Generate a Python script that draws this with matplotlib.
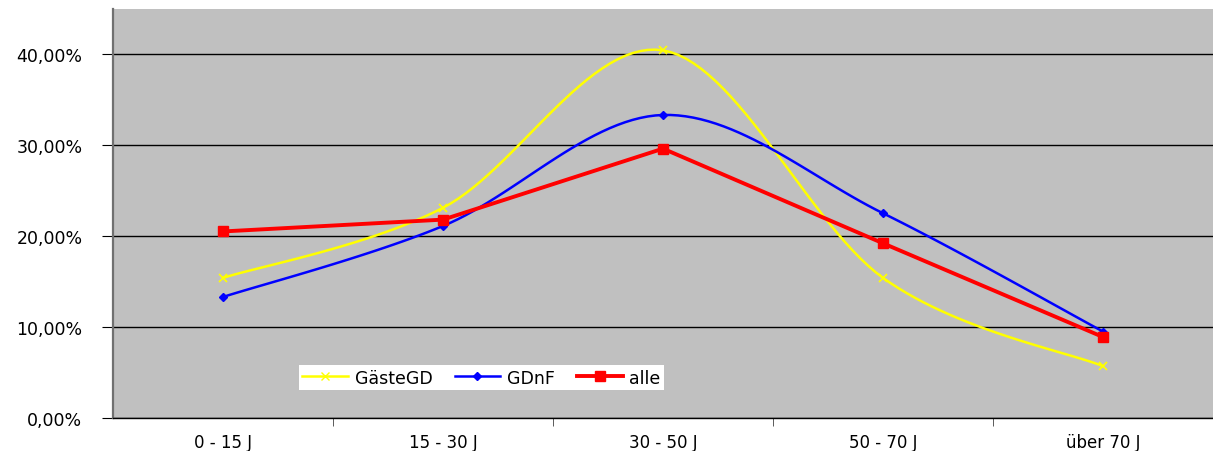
import numpy as np
from matplotlib import pyplot as plt
from matplotlib.ticker import FuncFormatter, FixedLocator

kategorien = ["0 - 15 J", "15 - 30 J", "30 - 50 J", "50 - 70 J", "über 70 J"]
gaeste_gd = [15.4, 23.1, 40.4, 15.4, 5.7]
gdnf = [13.3, 21.1, 33.3, 22.5, 9.5]
alle = [20.5, 21.8, 29.6, 19.2, 8.9]


def glatt(xs, ys, n=30):
    # Bezier-Glaettung wie in Excel (Catmull-Rom)
    xs = np.asarray(xs, float)
    ys = np.asarray(ys, float) / 100.0
    px = np.concatenate(([xs[0]], xs, [xs[-1]]))
    py = np.concatenate(([ys[0]], ys, [ys[-1]]))
    kx = []
    ky = []
    t = np.linspace(0, 1, n)
    for i in range(1, len(px) - 2):
        p0 = np.array([px[i], py[i]])
        p3 = np.array([px[i + 1], py[i + 1]])
        p1 = p0 + (p3 - np.array([px[i - 1], py[i - 1]])) / 6.0
        p2 = p3 - (np.array([px[i + 2], py[i + 2]]) - p0) / 6.0
        for tt in t:
            b = ((1 - tt) ** 3) * p0 + 3 * ((1 - tt) ** 2) * tt * p1 + 3 * (1 - tt) * tt ** 2 * p2 + tt ** 3 * p3
            kx.append(b[0])
            ky.append(b[1])
    return kx, ky


plt.rcParams['font.family'] = ['DejaVu Sans']

fig = plt.figure(figsize=(12.13, 4.52), dpi=100)
ax = fig.add_axes([113 / 1213, 33 / 452, 1 - 113 / 1213, (419 - 9.5) / 452])
ax.set_facecolor('#c0c0c0')

x = np.arange(len(kategorien))

kx, ky = glatt(x, gaeste_gd)
ax.plot(kx, ky, '-', color='#ffff00', lw=1.8, zorder=3)
ax.plot(x, np.array(gaeste_gd) / 100, 'x', color='#ffff00', ms=6, mew=1.2, zorder=3)

kx, ky = glatt(x, gdnf)
ax.plot(kx, ky, '-', color='#0000ff', lw=1.8, zorder=4)
ax.plot(x, np.array(gdnf) / 100, 'D', color='#0000ff', ms=4, zorder=4)

ax.plot(x, np.array(alle) / 100, '-s', color='#ff0000', lw=2.8, ms=7, zorder=5)

# Legende
ax.plot([], [], '-x', color='#ffff00', lw=1.8, ms=6, label='GästeGD')
ax.plot([], [], '-D', color='#0000ff', lw=1.8, ms=4, label='GDnF')
ax.plot([], [], '-s', color='#ff0000', lw=2.8, ms=7, label='alle')
h, l = ax.get_legend_handles_labels()
leg = ax.legend(h[-3:], l[-3:], ncol=3, loc='lower left',
                bbox_to_anchor=((299 - 113) / 1100, (419 - 391) / 409.5),
                frameon=True, fancybox=False, framealpha=1, edgecolor='white',
                fontsize=12.5, borderpad=0.2, handlelength=2.6, handletextpad=0.4,
                columnspacing=1.3, borderaxespad=0)
leg.get_frame().set_linewidth(0)

ax.set_xlim(-0.5, 4.5)
ax.set_ylim(0, 0.45)
ax.set_yticks([0, 0.1, 0.2, 0.3, 0.4])
ax.yaxis.set_major_formatter(FuncFormatter(lambda v, p: ("%.2f%%" % (v * 100)).replace('.', ',')))
ax.grid(axis='y', color='black', lw=1)
ax.set_axisbelow(True)

ax.set_xticks(x)
ax.set_xticklabels(kategorien)
ax.xaxis.set_minor_locator(FixedLocator([0.5, 1.5, 2.5, 3.5]))
ax.tick_params(axis='x', which='major', length=0, pad=11, labelsize=12)
ax.tick_params(axis='x', which='minor', length=6, color='#404040')
ax.tick_params(axis='y', length=8, pad=14, labelsize=12.5, color='black')

for s in ['top', 'right']:
    ax.spines[s].set_visible(False)
ax.spines['left'].set_color('#707070')
ax.spines['left'].set_linewidth(1.6)
ax.spines['bottom'].set_color('black')
ax.spines['bottom'].set_linewidth(1)

fig.savefig('out.png', dpi=100)
